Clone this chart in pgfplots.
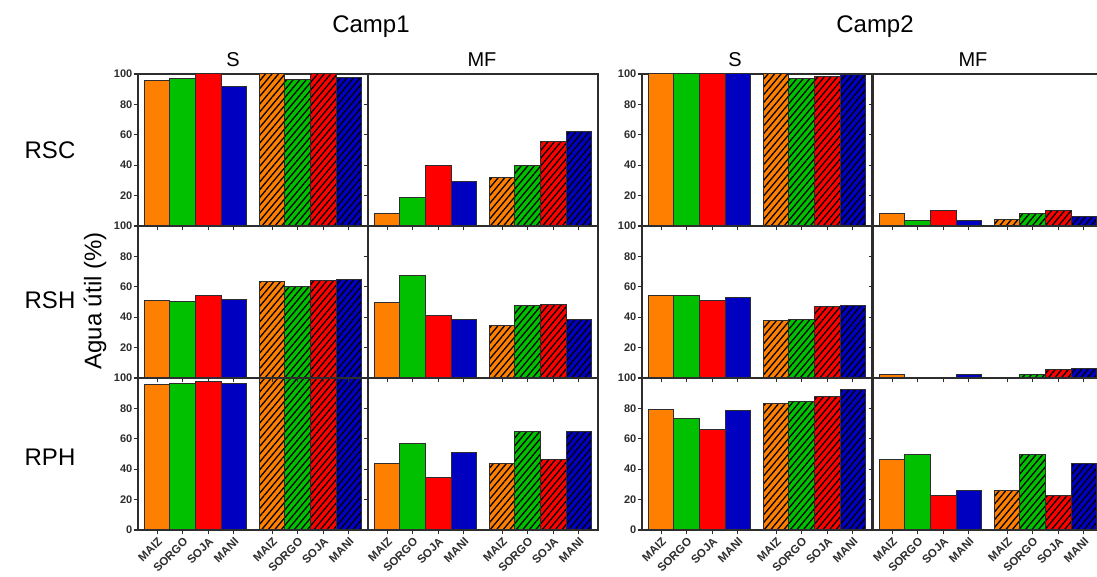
\documentclass[border=0pt]{standalone}
\usepackage{fontspec}
\setmainfont{Liberation Sans}
\usepackage{pgfplots}
\pgfplotsset{compat=1.18}
\usetikzlibrary{patterns.meta}
\definecolor{cO}{RGB}{255,128,0}
\definecolor{cG}{RGB}{0,192,0}
\definecolor{cR}{RGB}{255,0,0}
\definecolor{cB}{RGB}{0,0,192}
\definecolor{ax}{RGB}{45,45,45}

\pgfplotsset{
  panel/.style={
    scale only axis, width=230pt, height=152pt,
    xmin=-0.75, xmax=8.25, ymin=0, ymax=100,
    ybar, bar width=1,
    axis line style={ax, line width=1.3pt},
    xtick={0,1,2,3,4.5,5.5,6.5,7.5},
    xtick pos=bottom, ytick pos=left, tick align=outside,
    major tick length=4.5pt,
    every tick/.style={ax, line width=1.1pt},
    xticklabels={},
    ytick={20,40,60,80,100},
    yticklabel style={font=\bfseries\fontsize{11}{12}\selectfont, text=ax, inner sep=1pt},
    /pgf/number format/assume math mode=true,
    anchor=south west,
  },
  nolab/.style={yticklabels={}},
  bottomrow/.style={
    ytick={0,20,40,60,80,100},
    xticklabels={MAIZ,SORGO,SOJA,MANI,MAIZ,SORGO,SOJA,MANI},
    xticklabel style={rotate=45, anchor=north east, inner sep=1.5pt,
      font=\bfseries\fontsize{11.5}{13}\selectfont, text=ax},
  },
  plain/.style={fill=#1, draw=ax, line width=1pt, bar shift=0pt},
  hatch/.style={fill=#1, draw=ax, line width=1pt, bar shift=0pt,
    postaction={pattern={Lines[angle=50,distance=5pt,line width=1.3pt]}, pattern color=black}},
}

% eight bars of one panel: MAIZ SORGO SOJA MANI (plain), then the same (hatched)
\newcommand{\bars}[8]{%
  \addplot[plain=cO] coordinates {(0,#1)};
  \addplot[plain=cG] coordinates {(1,#2)};
  \addplot[plain=cR] coordinates {(2,#3)};
  \addplot[plain=cB] coordinates {(3,#4)};
  \addplot[hatch=cO] coordinates {(4.5,#5)};
  \addplot[hatch=cG] coordinates {(5.5,#6)};
  \addplot[hatch=cR] coordinates {(6.5,#7)};
  \addplot[hatch=cB] coordinates {(7.5,#8)};
}

\begin{document}
\begin{tikzpicture}
% ---------- row 3: RPH ----------
\begin{axis}[panel, bottomrow, at={(138pt,47pt)}]
  \bars{95.4}{96.3}{98}{96.7}{100}{100}{100}{100}
\end{axis}
\begin{axis}[panel, bottomrow, nolab, at={(368pt,47pt)}]
  \bars{43.6}{56.9}{34.8}{51.2}{43.6}{64.5}{46.4}{64.5}
\end{axis}
\begin{axis}[panel, bottomrow, at={(642pt,47pt)}]
  \bars{79.1}{73.6}{66.4}{78.4}{83.4}{84.5}{87.6}{92.6}
\end{axis}
\begin{axis}[panel, bottomrow, nolab, at={(873pt,47pt)}]
  \bars{46.4}{49.5}{22.9}{25.7}{25.7}{49.5}{22.9}{43.6}
\end{axis}
% ---------- row 2: RSH ----------
\begin{axis}[panel, at={(138pt,199pt)}]
  \bars{50.9}{50.4}{54.4}{51.5}{63.6}{60.3}{64.3}{65.1}
\end{axis}
\begin{axis}[panel, nolab, at={(368pt,199pt)}]
  \bars{49.6}{67.5}{41.2}{38.4}{34.6}{47.8}{48.2}{38.4}
\end{axis}
\begin{axis}[panel, at={(642pt,199pt)}]
  \bars{54.2}{54.4}{50.9}{53.1}{37.9}{38.6}{47.1}{47.6}
\end{axis}
\begin{axis}[panel, nolab, at={(873pt,199pt)}]
  \bars{2}{0.3}{0.5}{2.2}{0.5}{2}{5.3}{6.1}
\end{axis}
% ---------- row 1: RSC ----------
\begin{axis}[panel, at={(138pt,351pt)}]
  \bars{95.9}{97.2}{100}{92}{100}{96.3}{100}{97.8}
\end{axis}
\begin{axis}[panel, nolab, at={(368pt,351pt)}]
  \bars{8.1}{19}{39.5}{29}{31.8}{39.5}{55.3}{62}
\end{axis}
\begin{axis}[panel, at={(642pt,351pt)}]
  \bars{100}{100}{100}{100}{100}{97}{98.2}{99.5}
\end{axis}
\begin{axis}[panel, nolab, at={(873pt,351pt)}]
  \bars{8}{3.7}{10.3}{3.7}{4}{8}{10.3}{6}
\end{axis}

% ---------- titles and labels ----------
\node[font=\fontsize{24}{28}\selectfont] at (371pt,550pt) {Camp1};
\node[font=\fontsize{24}{28}\selectfont] at (875pt,550pt) {Camp2};
\node[font=\fontsize{20}{24}\selectfont] at (233pt,517pt) {S};
\node[font=\fontsize{20}{24}\selectfont] at (482pt,517pt) {MF};
\node[font=\fontsize{20}{24}\selectfont] at (735pt,517pt) {S};
\node[font=\fontsize{20}{24}\selectfont] at (973pt,517pt) {MF};
\node[font=\fontsize{24}{28}\selectfont] at (50pt,427pt) {RSC};
\node[font=\fontsize{24}{28}\selectfont] at (50pt,277pt) {RSH};
\node[font=\fontsize{24}{28}\selectfont] at (50pt,120pt) {RPH};
\node[font=\fontsize{24}{28}\selectfont, rotate=90] at (95pt,276pt) {Agua útil (\%)};

\pgfresetboundingbox
\path[use as bounding box] (0pt,0pt) rectangle (1097pt,577pt);
\end{tikzpicture}
\end{document}
